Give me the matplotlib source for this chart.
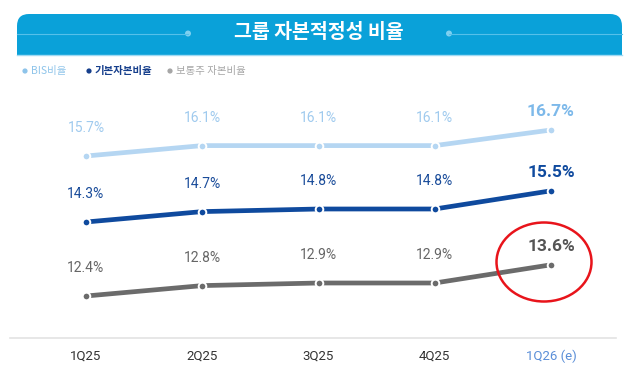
import matplotlib
matplotlib.use("Agg")
import matplotlib.pyplot as plt
from matplotlib.patches import FancyBboxPatch, Rectangle, Ellipse, Circle

plt.rcParams['font.family'] = ['Roboto', 'Noto Sans CJK KR', 'DejaVu Sans']
kr = ['Noto Sans CJK KR', 'DejaVu Sans']

# data
quarters = ['1Q25', '2Q25', '3Q25', '4Q25', '1Q26 (e)']
bis = [15.7, 16.1, 16.1, 16.1, 16.7]
tier1 = [14.3, 14.7, 14.8, 14.8, 15.5]
cet1 = [12.4, 12.8, 12.9, 12.9, 13.6]
series_names = ['BIS비율', '기본자본비율', '보통주 자본비율']
title = '그룹 자본적정성 비율'

# styles: line colour, label colour, last-label colour, pixel row of first point
styles = [
    (bis, '#b5d6f2', '#9fcaee', '#7db9ea', 156),
    (tier1, '#0f4a9e', '#1a4c9a', '#0f4a9e', 222),
    (cet1, '#6b6b6b', '#666666', '#555555', 296),
]

W, H = 640, 387
fig = plt.figure(figsize=(6.4, 3.87), dpi=100)

# plot area: x=0 at 86px, spacing ~116px; vertical band 100..330 px
px_per_unit = 116.25
left_px = 86 - 0.5 * px_per_unit
top_px, bot_px = 100, 330
px_per_pt = 26.0
rect = [left_px / W, (H - bot_px) / H, 5 * px_per_unit / W, (bot_px - top_px) / H]

ax = fig.add_axes(rect)
axes = [ax, ax.twinx(), ax.twinx()]
x = list(range(len(quarters)))

for a, (vals, lc, tc, lastc, y0) in zip(axes, styles):
    a.set_xlim(-0.5, 4.5)
    a.set_ylim(vals[0] - (bot_px - y0) / px_per_pt, vals[0] + (y0 - top_px) / px_per_pt)
    a.plot(x, vals, color=lc, lw=3.4, solid_capstyle='butt', zorder=2)
    a.plot(x, vals, 'o', color=lc, ms=5.5, mec='white', mew=1.4, zorder=3)
    for i, v in enumerate(vals):
        last = i == len(vals) - 1
        a.annotate(f'{v:.1f}%', (i, v), xytext=(0, 13 if last else 20),
                   textcoords='offset points', ha='center', va='center',
                   fontsize=12.5 if last else 10, fontweight='bold' if last else 'normal',
                   color=lastc if last else tc)
    for s in a.spines.values():
        s.set_visible(False)
    a.set_yticks([])

ax.set_xticks(x)
ax.set_xticklabels(quarters, fontsize=9.5, color='#333333')
ax.get_xticklabels()[-1].set_color('#5b8fd8')
ax.tick_params(axis='x', length=0, pad=14)

# overlay in pixel coordinates for header, legend, baseline, highlight
ov = fig.add_axes([0, 0, 1, 1], zorder=5)
ov.set_xlim(0, W)
ov.set_ylim(H, 0)
ov.axis('off')
ov.patch.set_alpha(0)

hc = '#0aa1d9'
ov.add_patch(FancyBboxPatch((17, 14), 605, 41, boxstyle='round,pad=0,rounding_size=12',
                            fc=hc, ec='none'))
ov.add_patch(Rectangle((17, 34), 605, 21, fc=hc, ec='none'))
ov.plot([17, 622], [55, 55], color='#9fdaf3', lw=1)
ov.plot([17, 188], [33.5, 33.5], color='#55c0ea', lw=0.8)
ov.plot([449, 622], [33.5, 33.5], color='#55c0ea', lw=0.8)
ov.add_patch(Circle((188, 33.5), 3, fc='#7fd0f0', ec='none'))
ov.add_patch(Circle((449, 33.5), 3, fc='#7fd0f0', ec='none'))
ov.text(319, 33, title, ha='center', va='center', color='white',
        fontsize=14, fontweight='bold', family=kr)

# legend
leg_colors = ['#8ec4ea', '#163f8c', '#a6a6a6']
leg_x = [25, 89, 170]
for name, c, lx, wt in zip(series_names, leg_colors, leg_x, ['normal', 'bold', 'normal']):
    ov.add_patch(Circle((lx, 71), 2.6, fc=c, ec='none'))
    ov.text(lx + 6, 71, name, ha='left', va='center', color=c, fontsize=7.5,
            fontweight=wt, family=kr)

# baseline
ov.plot([10, 616], [338, 338], color='#e3e3e3', lw=1.2)

# highlight ring
ov.add_patch(Ellipse((544, 262), 95, 79, fc='none', ec='#e8141b', lw=1.8))

fig.savefig('out.png', dpi=100)
